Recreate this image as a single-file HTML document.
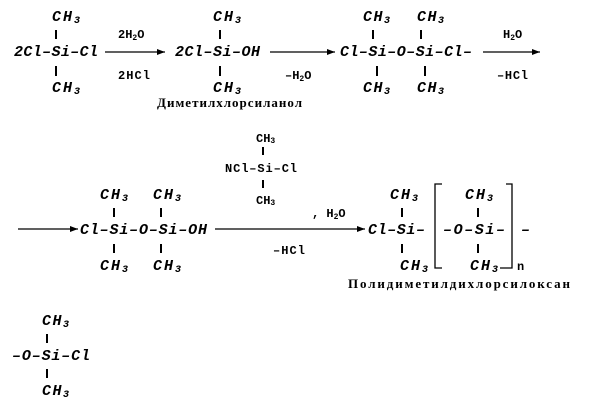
<!DOCTYPE html>
<html><head><meta charset="utf-8"><style>
html,body{margin:0;padding:0;background:#fff;}
svg{display:block}
.m{font-family:"Liberation Mono",monospace;font-style:italic;font-weight:bold;font-size:15px;fill:#000}
.r{font-family:"Liberation Mono",monospace;font-weight:bold;font-size:12px;fill:#000}
.l{font-family:"Liberation Serif",serif;font-weight:bold;font-size:13px;fill:#000}
line{stroke:#000;stroke-width:1.3}
.b{stroke-width:2}
</style></head><body>
<svg width="601" height="410" viewBox="0 0 601 410" xmlns="http://www.w3.org/2000/svg">
<defs><marker id="a" markerWidth="8" markerHeight="6" refX="8" refY="3" orient="auto" markerUnits="userSpaceOnUse"><path d="M0,0L8,3L0,6z" fill="#000"/></marker></defs>

<!-- Row 1 -->
<text class="m" x="52" y="21" textLength="28">CH<tspan font-size="10" dy="2">3</tspan></text>
<line class="b" x1="56" y1="30" x2="56" y2="39"/>
<text class="m" x="14" y="56" textLength="84">2Cl–Si–Cl</text>
<line class="b" x1="56" y1="66" x2="56" y2="76"/>
<text class="m" x="52" y="92" textLength="28">CH<tspan font-size="10" dy="2">3</tspan></text>

<line x1="105" y1="52" x2="165" y2="52" marker-end="url(#a)"/>
<text class="r" x="118" y="38">2H<tspan font-size="8" dy="2">2</tspan><tspan dy="-2">O</tspan></text>
<text class="r" x="118" y="79" textLength="32">2HCl</text>

<text class="m" x="213" y="21" textLength="28">CH<tspan font-size="10" dy="2">3</tspan></text>
<line class="b" x1="220" y1="30" x2="220" y2="39"/>
<text class="m" x="175" y="56" textLength="85">2Cl–Si–OH</text>
<line class="b" x1="220" y1="66" x2="220" y2="76"/>
<text class="m" x="213" y="92" textLength="28">CH<tspan font-size="10" dy="2">3</tspan></text>
<text class="l" x="157" y="107" textLength="145">Диметилхлорсиланол</text>

<line x1="270" y1="52" x2="335" y2="52" marker-end="url(#a)"/>
<text class="r" x="285" y="79">–H<tspan font-size="8" dy="2">2</tspan><tspan dy="-2">O</tspan></text>

<text class="m" x="363" y="21" textLength="27">CH<tspan font-size="10" dy="2">3</tspan></text>
<text class="m" x="417" y="21" textLength="27">CH<tspan font-size="10" dy="2">3</tspan></text>
<line class="b" x1="373" y1="30" x2="373" y2="39"/>
<line class="b" x1="421" y1="30" x2="421" y2="39"/>
<text class="m" x="340" y="56" textLength="132">Cl–Si–O–Si–Cl–</text>
<line class="b" x1="377" y1="66" x2="377" y2="76"/>
<line class="b" x1="425" y1="66" x2="425" y2="76"/>
<text class="m" x="363" y="92" textLength="27">CH<tspan font-size="10" dy="2">3</tspan></text>
<text class="m" x="417" y="92" textLength="27">CH<tspan font-size="10" dy="2">3</tspan></text>

<line x1="483" y1="52" x2="540" y2="52" marker-end="url(#a)"/>
<text class="r" x="503" y="38">H<tspan font-size="8" dy="2">2</tspan><tspan dy="-2">O</tspan></text>
<text class="r" x="497" y="79" textLength="31">–HCl</text>

<!-- Row 2 -->
<text class="r" x="256" y="142">CH<tspan font-size="8" dy="1">3</tspan></text>
<line class="b" x1="263" y1="147" x2="263" y2="155"/>
<text class="r" x="225" y="172" textLength="72">NCl–Si–Cl</text>
<line class="b" x1="263" y1="180" x2="263" y2="188"/>
<text class="r" x="256" y="204">CH<tspan font-size="8" dy="1">3</tspan></text>

<line x1="18" y1="229" x2="78" y2="229" marker-end="url(#a)"/>
<text class="m" x="100" y="199" textLength="28">CH<tspan font-size="10" dy="2">3</tspan></text>
<text class="m" x="153" y="199" textLength="28">CH<tspan font-size="10" dy="2">3</tspan></text>
<line class="b" x1="114" y1="208" x2="114" y2="217"/>
<line class="b" x1="161" y1="208" x2="161" y2="217"/>
<text class="m" x="80" y="234" textLength="127">Cl–Si–O–Si–OH</text>
<line class="b" x1="114" y1="244" x2="114" y2="253"/>
<line class="b" x1="161" y1="244" x2="161" y2="253"/>
<text class="m" x="100" y="270" textLength="28">CH<tspan font-size="10" dy="2">3</tspan></text>
<text class="m" x="153" y="270" textLength="28">CH<tspan font-size="10" dy="2">3</tspan></text>

<line x1="215" y1="229" x2="365" y2="229" marker-end="url(#a)"/>
<text class="r" x="312" y="217">, H<tspan font-size="8" dy="2">2</tspan><tspan dy="-2">O</tspan></text>
<text class="r" x="273" y="254" textLength="32">–HCl</text>

<text class="m" x="390" y="199" textLength="28">CH<tspan font-size="10" dy="2">3</tspan></text>
<line class="b" x1="402" y1="208" x2="402" y2="217"/>
<text class="m" x="368" y="234" textLength="57">Cl–Si–</text>
<line class="b" x1="402" y1="244" x2="402" y2="253"/>
<text class="m" x="400" y="270" textLength="28">CH<tspan font-size="10" dy="2">3</tspan></text>
<polyline points="442,184 435,184 435,268 442,268" fill="none" stroke="#000" stroke-width="1.3"/>
<text class="m" x="465" y="199" textLength="28">CH<tspan font-size="10" dy="2">3</tspan></text>
<line class="b" x1="478" y1="208" x2="478" y2="217"/>
<text class="m" x="443" y="234" textLength="62">–O–Si–</text>
<line class="b" x1="478" y1="244" x2="478" y2="253"/>
<text class="m" x="470" y="270" textLength="28">CH<tspan font-size="10" dy="2">3</tspan></text>
<polyline points="506,184 512,184 512,268 500,268" fill="none" stroke="#000" stroke-width="1.3"/>
<text class="m" x="521" y="234">–</text>
<text class="r" x="517" y="270" font-size="14">n</text>
<text class="l" x="348" y="288" textLength="222">Полидиметилдихлорсилоксан</text>

<!-- Row 3 -->
<text class="m" x="42" y="325" textLength="27">CH<tspan font-size="10" dy="2">3</tspan></text>
<line class="b" x1="47" y1="334" x2="47" y2="343"/>
<text class="m" x="12" y="360" textLength="78">–O–Si–Cl</text>
<line class="b" x1="47" y1="369" x2="47" y2="378"/>
<text class="m" x="42" y="395" textLength="27">CH<tspan font-size="10" dy="2">3</tspan></text>
</svg>
</body></html>
